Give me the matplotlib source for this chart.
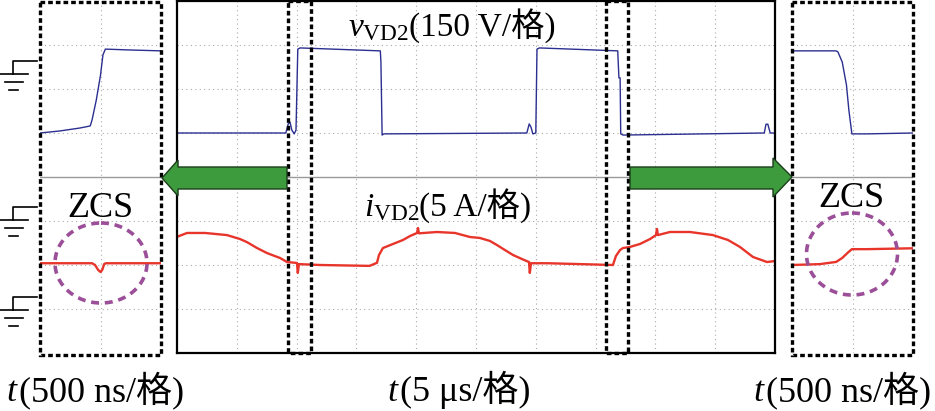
import numpy as np
import matplotlib.pyplot as plt
from matplotlib.patches import Rectangle, Ellipse, Polygon

plt.rcParams["mathtext.fontset"] = "custom"
plt.rcParams["mathtext.rm"] = "Liberation Serif"
plt.rcParams["mathtext.it"] = "Liberation Serif:italic"
FONT = ["Liberation Serif", "Noto Sans CJK SC"]

# ============================================================
# 波形数据 (读自示波器截图)
# 主窗口: t 单位 us (5 us/格), 局部放大: t 单位 ns (500 ns/格)
# v_VD2 单位 V (150 V/格), i_VD2 单位 A (5 A/格)
# ============================================================
t_main_v = [0, 9.1, 9.3, 9.45, 9.6, 9.8, 9.95, 10.1, 10.3, 17.0, 17.05, 17.15, 17.3,
            29.25, 29.45, 29.6, 29.75, 30.0, 30.1, 30.3, 36.85, 36.95, 37.05, 37.1,
            37.3, 49.1, 49.25, 49.4, 49.6, 50]
v_main = [0, 0, 31, 37, 10, -3, 10, 286, 290, 280, 242, -7, -3,
          0, 31, 20, -3, 0, 286, 290, 280, 188, 188, -3,
          -7, 0, 30, 30, 0, 0]

t_main_i = [0, 0.84, 2.34, 4.18, 5.27, 5.85, 6.69, 7.52, 7.94, 8.61, 9.2, 10.03,
            10.1, 10.2, 12.0, 16.1, 16.72, 16.89, 17.22, 18.06, 18.89, 19.48,
            20.07, 20.15, 20.23, 21.74, 23.24, 24.5, 25.33, 26.17, 26.75, 27.42,
            28.09, 28.84, 29.43, 29.5, 29.6, 31.0, 36.45, 36.7, 37.04, 37.29,
            37.87, 38.71, 39.55, 40.05, 40.13, 40.21, 41.22, 42.89, 44.81, 46.07,
            47.07, 48.16, 49.33, 50]
i_main = [3.2, 3.64, 3.64, 3.4, 2.95, 2.6, 1.93, 1.36, 1.14, 0.8, 0.34, 0.23,
          -0.9, 0.1, 0.0, -0.1, 0.25, 1.14, 1.93, 2.39, 2.84, 3.29,
          3.64, 4.2, 3.6, 3.75, 3.64, 3.18, 3.07, 2.73, 2.27, 1.7,
          1.14, 0.68, 0.34, -0.9, 0.2, 0.2, 0.0, 1.02, 1.7, 1.93,
          2.05, 2.39, 2.95, 3.4, 4.1, 3.4, 3.75, 3.75, 3.4, 2.84,
          2.05, 0.91, 0.34, 0.45]

t_zl_v = [0, 165, 330, 415, 430, 465, 500, 520, 540, 745, 1000]
v_zl = [0, 7, 17, 24, 44, 112, 197, 266, 286, 283, 280]
t_zl_i = [0, 430, 455, 480, 500, 515, 530, 545, 1000]
i_zl = [0.2, 0.2, 0.0, -0.55, -0.8, -0.55, 0.1, 0.2, 0.2]

t_zr_v = [0, 365, 380, 415, 450, 470, 495, 620, 1000]
v_zr = [280, 280, 276, 242, 164, 78, -3, -3, 0]
t_zr_i = [0, 230, 365, 415, 465, 495, 620, 1000]
i_zr = [0.0, 0.1, 0.35, 0.8, 1.45, 1.8, 1.8, 1.9]

V_DIV, I_DIV = 150.0, 5.0
V_OFF, I_OFF = 1.0, -2.0       # 通道零点位置 (格)
BLUE, RED = "#2b2f8f", "#e8352b"
W, H = 935, 411


def px_axes(x0, y0, x1, y1):
    return fig.add_axes([x0 / W, 1 - y1 / H, (x1 - x0) / W, (y1 - y0) / H])


def scope_grid(ax, xmax, nx):
    ax.set_xlim(0, xmax)
    ax.set_ylim(-4, 4)
    for k in range(1, nx):
        ax.axvline(xmax * k / nx, color="#aaaaaa", ls=(0, (1, 3)), lw=0.8)
    for k in range(-3, 4):
        if k != 0:
            ax.axhline(k, color="#aaaaaa", ls=(0, (1, 3)), lw=0.8)
    ax.axhline(0, color="#999999", lw=1.0)
    ax.set_xticks([])
    ax.set_yticks([])
    ax.patch.set_alpha(0)


def plot_traces(ax, tv, v, ti, i):
    ax.plot(tv, np.array(v) / V_DIV + V_OFF, color=BLUE, lw=1.0)
    ax.plot(ti, np.array(i) / I_DIV + I_OFF, color=RED, lw=1.7)


def label(x, y, head, rest, size):
    # 斜体变量 + 正体单位 (格 需要 CJK 字体回退, 不能放进 mathtext)
    t1 = ov.text(x, y, head, ha="left", va="baseline", fontsize=size,
                 family=FONT)
    ov.annotate(rest, xy=(1, y), xycoords=(t1, "data"), ha="left",
                va="baseline", fontsize=size, family=FONT)


fig = plt.figure(figsize=(W / 100, H / 100), dpi=100)

# --- 主窗口 ---
ax_m = px_axes(177, 1, 775, 353)
scope_grid(ax_m, 50, 10)
plot_traces(ax_m, t_main_v, v_main, t_main_i, i_main)
for s in ax_m.spines.values():
    s.set_linewidth(1.6)

# --- 左右局部放大 ---
ax_l = px_axes(40, 1, 161, 353)
scope_grid(ax_l, 1000, 2)
plot_traces(ax_l, t_zl_v, v_zl, t_zl_i, i_zl)
ax_r = px_axes(792, 1, 913, 353)
scope_grid(ax_r, 1000, 2)
plot_traces(ax_r, t_zr_v, v_zr, t_zr_i, i_zr)
for a in (ax_l, ax_r):
    for s in a.spines.values():
        s.set_visible(False)

# --- 标注层 (像素坐标) ---
ov = fig.add_axes([0, 0, 1, 1])
ov.set_xlim(0, W)
ov.set_ylim(H, 0)
ov.axis("off")
ov.patch.set_alpha(0)

dash = (0, (1.4, 0.9))
for x0, x1, y0, y1 in [(40, 161, 2, 355), (792, 913, 2, 355),
                       (288, 311, 1, 353), (606, 628, 1, 353)]:
    ov.add_patch(Rectangle((x0, y0), x1 - x0, y1 - y0, fill=False,
                           ec="black", lw=2.4, ls=dash))

arrow_kw = dict(fc="#3d9a3d", ec="#1c3d1c", lw=1.0)
ov.add_patch(Polygon([(287, 167), (178, 167), (178, 160), (162, 178),
                      (178, 196), (178, 189), (287, 189)], **arrow_kw))
ov.add_patch(Polygon([(630, 167), (773, 167), (773, 158), (792, 177),
                      (773, 197), (773, 189), (630, 189)], **arrow_kw))

for cx, cy, ew, eh in [(101, 263, 92, 80), (852, 254, 91, 82)]:
    ov.add_patch(Ellipse((cx, cy), ew, eh, fill=False, ec="#9b4f98",
                         lw=2.6, ls=(0, (2.2, 1.6))))

# 接地符号
for y0 in [61, 207, 297]:
    ov.plot([37, 13, 13], [y0, y0, y0 + 13], color="black", lw=1.2)
    ov.plot([0, 28], [y0 + 13, y0 + 13], color="black", lw=1.2)
    ov.plot([5, 23], [y0 + 21, y0 + 21], color="black", lw=1.2)
    ov.plot([9, 18], [y0 + 29, y0 + 29], color="black", lw=1.2)

label(348, 36, r"$v_{\mathrm{VD2}}$", "(150 V/格)", 24)
label(364, 216, r"$i_{\mathrm{VD2}}$", "(5 A/格)", 24)
ov.text(100, 217, "ZCS", ha="center", va="baseline", fontsize=26, family=FONT)
ov.text(851, 207, "ZCS", ha="center", va="baseline", fontsize=26, family=FONT)
label(6, 401, r"$t$", "(500 ns/格)", 26)
label(387, 401, r"$t$", "(5 μs/格)", 26)
label(753, 401, r"$t$", "(500 ns/格)", 26)

plt.savefig("out.png", dpi=100)
